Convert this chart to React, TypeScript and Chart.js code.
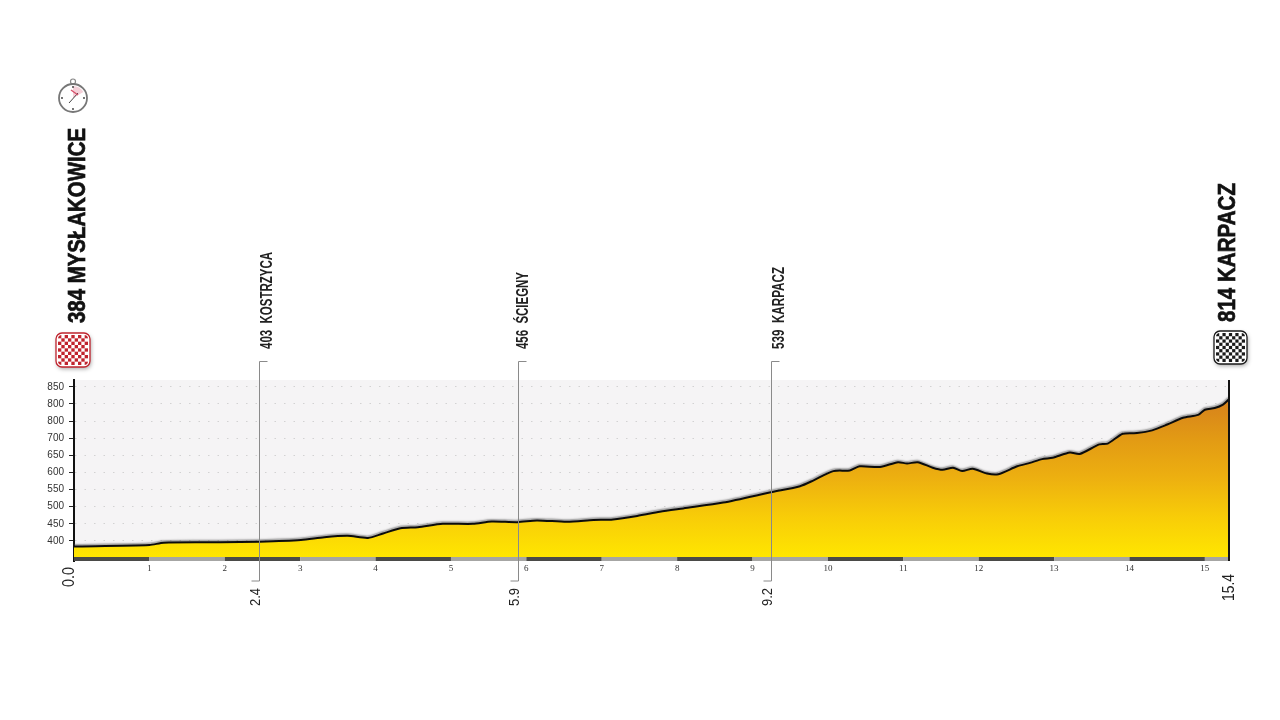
import React, { useEffect, useRef } from "react";
import { Chart, registerables } from "chart.js";

Chart.register(...registerables);

// Profile
const profileKm = [0, 1.0, 1.19, 1.94, 2.46, 3.01, 3.32, 3.63, 3.9, 4.1, 4.33, 4.56, 4.89, 5.29, 5.54, 5.88, 6.14, 6.54, 6.89, 7.15, 7.47, 7.77, 8.08, 8.61, 9.26, 9.63, 9.81, 10.07, 10.29, 10.42, 10.69, 10.93, 11.05, 11.19, 11.39, 11.52, 11.66, 11.78, 11.92, 12.11, 12.26, 12.51, 12.68, 12.84, 12.98, 13.21, 13.34, 13.6, 13.71, 13.91, 14.1, 14.3, 14.5, 14.71, 14.91, 15.0, 15.13, 15.24, 15.32];
const profileElevation = [384, 388, 395, 396, 398, 403, 411, 415, 409, 422, 437, 440, 450, 450, 457, 455, 460, 456, 461, 463, 473, 485, 495, 512, 543, 560, 577, 604, 606, 618, 616, 630, 626, 630, 614, 608, 614, 604, 611, 597, 595, 618, 628, 639, 643, 658, 654, 682, 684, 713, 715, 723, 740, 760, 768, 783, 788, 798, 814];

const axisEndKm = 15.32;
const elevationMin = 341.5;
const elevationMax = 870;
const baseElevation = 353;
const bandElevation = 347.3;
const bandKm = [0, 1, 2, 3, 4, 5, 6, 7, 8, 9, 10, 11, 12, 13, 14, 15, 15.32];
const kmTicks = [0, 1, 2, 3, 4, 5, 6, 7, 8, 9, 10, 11, 12, 13, 14, 15];
const elevationTicks = [400, 450, 500, 550, 600, 650, 700, 750, 800, 850];
const elevationTickLabels = ["400", "450", "500", "550", "600", "650", "700", "800", "800", "850"];

const waypointKm = [2.46, 5.89, 9.24];
const waypointKmLabels = ["2.4", "5.9", "9.2"];
const waypointNames = ["403  KOSTRZYCA", "456  ŚCIEGNY", "539  KARPACZ"];
const waypointNameLengths = [97, 77, 82];
const waypointNameGaps = [12.5, 9, 12.5];

const startName = "384 MYSŁAKOWICE";
const finishName = "814 KARPACZ";
const startKmLabel = "0.0";
const finishKmLabel = "15.4";

const gradientStops = [
  [0, "#ffe600"],
  [0.25, "#f8cd08"],
  [0.5, "#edb010"],
  [0.75, "#e29a14"],
  [1, "#d6811c"],
];

const NARROW = '"Liberation Sans Narrow", "Liberation Sans", sans-serif';
const HEAVY = '"Liberation Sans", sans-serif';

function rotatedText(ctx: any, text: string, x: number, y: number, font: string, color: string, maxLen?: number, extra?: number) {
  ctx.save();
  ctx.translate(x, y);
  ctx.rotate(-Math.PI / 2);
  ctx.font = font;
  ctx.fillStyle = color;
  ctx.textAlign = "left";
  ctx.textBaseline = "alphabetic";
  if (maxLen) ctx.fillText(text, 0, 0, maxLen);
  else ctx.fillText(text, 0, 0);
  if (extra) {
    ctx.strokeStyle = color;
    ctx.lineWidth = extra;
    ctx.strokeText(text, 0, 0, maxLen);
  }
  ctx.restore();
}

function badge(ctx: any, x: number, y: number, size: number, color: string) {
  ctx.save();
  ctx.shadowColor = "rgba(0,0,0,0.35)";
  ctx.shadowBlur = 4;
  ctx.shadowOffsetX = 1;
  ctx.shadowOffsetY = 2;
  ctx.beginPath();
  ctx.roundRect(x, y, size, size, 6);
  ctx.fillStyle = "#fff";
  ctx.fill();
  ctx.restore();
  ctx.save();
  ctx.beginPath();
  ctx.roundRect(x + 2, y + 2, size - 4, size - 4, 4);
  ctx.clip();
  const cell = (size - 4) / 9;
  ctx.fillStyle = color;
  for (let r = 0; r < 9; r++) {
    for (let c = 0; c < 9; c++) {
      if ((r + c) % 2 === 0) ctx.fillRect(x + 2 + c * cell, y + 2 + r * cell, cell, cell);
    }
  }
  ctx.restore();
  ctx.beginPath();
  ctx.roundRect(x, y, size, size, 6);
  ctx.strokeStyle = color;
  ctx.lineWidth = 1.3;
  ctx.stroke();
}

function stopwatch(ctx: any, cx: number, cy: number, r: number) {
  ctx.save();
  ctx.strokeStyle = "#888";
  ctx.lineWidth = 1.2;
  ctx.beginPath();
  ctx.arc(cx, cy - r - 2.5, 2.5, 0, Math.PI * 2);
  ctx.stroke();
  ctx.fillStyle = "#f4d0d8";
  ctx.beginPath();
  ctx.moveTo(cx, cy);
  ctx.arc(cx, cy, r - 2, -Math.PI / 2, -Math.PI / 6);
  ctx.closePath();
  ctx.fill();
  ctx.lineWidth = 1.8;
  ctx.strokeStyle = "#777";
  ctx.beginPath();
  ctx.arc(cx, cy, r, 0, Math.PI * 2);
  ctx.stroke();
  ctx.fillStyle = "#333";
  for (let i = 0; i < 4; i++) {
    const a = (i * Math.PI) / 2;
    ctx.beginPath();
    ctx.arc(cx + Math.cos(a) * (r - 3), cy + Math.sin(a) * (r - 3), 0.9, 0, Math.PI * 2);
    ctx.fill();
  }
  ctx.strokeStyle = "#444";
  ctx.lineWidth = 1;
  ctx.beginPath();
  ctx.moveTo(cx - 4, cy + 5);
  ctx.lineTo(cx + 5, cy - 5);
  ctx.stroke();
  ctx.strokeStyle = "#d8506a";
  ctx.lineWidth = 1.4;
  ctx.beginPath();
  ctx.moveTo(cx - 2, cy - 8);
  ctx.lineTo(cx + 5, cy - 3);
  ctx.stroke();
  ctx.restore();
}

const decorations = {
  id: "decorations",
  beforeDraw(chart: any) {
    const { ctx, chartArea: a } = chart;
    ctx.save();
    ctx.fillStyle = "#f5f4f5";
    ctx.fillRect(a.left, a.top, a.right - a.left, a.bottom - a.top);
    ctx.restore();
  },
  beforeDatasetDraw(chart: any, args: any) {
    if (args.index !== 0) return;
    const { ctx } = chart;
    ctx.save();
    ctx.shadowColor = "rgba(80,80,80,0.55)";
    ctx.shadowBlur = 1.5;
    ctx.shadowOffsetX = -0.5;
    ctx.shadowOffsetY = -1.5;
  },
  afterDatasetDraw(chart: any, args: any) {
    if (args.index !== 0) return;
    chart.ctx.restore();
  },
  afterDatasetsDraw(chart: any) {
    const { ctx, scales } = chart;
    const x = scales.x;
    const top = scales.y.top - 18.5;
    const bottom = scales.y.bottom + 20;
    waypointKm.forEach((km, i) => {
      const px = Math.round(x.getPixelForValue(km)) + 0.5;
      ctx.save();
      ctx.strokeStyle = "#8a8a8a";
      ctx.lineWidth = 1;
      ctx.beginPath();
      ctx.moveTo(px + 8, top);
      ctx.lineTo(px, top);
      ctx.lineTo(px, bottom);
      ctx.lineTo(px - 8, bottom);
      ctx.stroke();
      ctx.restore();
      rotatedText(ctx, waypointKmLabels[i], px + 0.5, scales.y.bottom + 45, `15px ${NARROW}`, "#222", 18);
      rotatedText(ctx, waypointNames[i], px + waypointNameGaps[i], top - 12.5, `bold 17px ${NARROW}`, "#222", waypointNameLengths[i]);
    });
    rotatedText(ctx, startKmLabel, x.left - 0.5, scales.y.bottom + 26, `16px ${NARROW}`, "#222", 20);
    rotatedText(ctx, finishKmLabel, x.right + 5, scales.y.bottom + 40, `16px ${NARROW}`, "#222", 27);
    rotatedText(ctx, startName, x.left + 11, 323, `bold 24px ${HEAVY}`, "#111", 195, 0.7);
    rotatedText(ctx, finishName, x.right + 6, 322, `bold 24px ${HEAVY}`, "#111", 139, 0.7);
    badge(ctx, 56, 333, 34, "#c0242e");
    badge(ctx, 1214, 331, 33, "#1a1a1a");
    stopwatch(ctx, 73, 98, 14);
  },
};

export default function App() {
  const ref = useRef<HTMLCanvasElement>(null);
  useEffect(() => {
    const chart = new Chart(ref.current as HTMLCanvasElement, {
      type: "line",
      data: {
        datasets: [
          {
            data: profileKm.map((k, i) => ({ x: k, y: profileElevation[i] })),
            borderColor: "#0c0c0c",
            borderWidth: 2,
            borderJoinStyle: "round",
            pointRadius: 0,
            tension: 0.25,
            fill: { value: baseElevation },
            order: 2,
            backgroundColor: (c: any) => {
              const { chart: ch } = c;
              if (!ch.chartArea) return "#ffe600";
              const y = ch.scales.y;
              const g = ch.ctx.createLinearGradient(0, y.getPixelForValue(baseElevation), 0, y.getPixelForValue(814));
              gradientStops.forEach(([p, col]: any) => g.addColorStop(p, col));
              return g;
            },
          },
          {
            data: bandKm.map((k) => ({ x: k, y: bandElevation })),
            borderWidth: 4,
            borderCapStyle: "butt",
            pointRadius: 0,
            fill: false,
            order: 1,
            segment: {
              borderColor: (s: any) => (s.p0DataIndex % 2 === 0 ? "#4a4a48" : "#a6a6a4"),
            },
          },
          {
            data: [
              { x: axisEndKm, y: elevationMin },
              { x: axisEndKm, y: elevationMax },
            ],
            borderColor: "#111",
            borderWidth: 2,
            pointRadius: 0,
            fill: false,
            clip: false,
            order: 0,
          },
        ],
      } as any,
      options: {
        animation: false,
        responsive: false,
        layout: { padding: { top: 380, left: 0, right: 51, bottom: 139 } },
        plugins: { legend: { display: false }, tooltip: { enabled: false } },
        scales: {
          x: {
            type: "linear",
            min: 0,
            max: axisEndKm,
            afterFit: (s: any) => {
              s.height = 20;
            },
            afterBuildTicks: (s: any) => {
              s.ticks = kmTicks.map((value) => ({ value }));
            },
            grid: { display: false, drawTicks: false, tickLength: 0 },
            border: { display: false },
            ticks: {
              autoSkip: false,
              maxRotation: 0,
              padding: 2,
              color: "#333",
              font: { family: '"Liberation Serif", serif', size: 9 },
              callback: (v: any) => (v === 0 ? "" : String(v)),
            },
          },
          y: {
            min: elevationMin,
            max: elevationMax,
            afterFit: (s: any) => {
              s.width = 74;
            },
            afterBuildTicks: (s: any) => {
              s.ticks = elevationTicks.map((value) => ({ value }));
            },
            border: { color: "#111", width: 2, dash: [1.5, 8] },
            grid: {
              color: "#d2d2d2",
              lineWidth: 1,
              tickColor: "#222",
              tickWidth: 1,
              tickLength: 5,
              tickBorderDash: [],
            },
            ticks: {
              autoSkip: false,
              padding: 5,
              color: "#333",
              font: { family: '"Liberation Sans", sans-serif', size: 10 },
              callback: (v: any) => elevationTickLabels[elevationTicks.indexOf(v)],
            },
          },
        },
      } as any,
      plugins: [decorations],
    });
    return () => chart.destroy();
  }, []);
  return (
    <div style={{ position: "absolute", left: 0, top: 0, width: 1280, height: 720, background: "#fff" }}>
      <canvas ref={ref} width={1280} height={720} style={{ display: "block" }} />
    </div>
  );
}
